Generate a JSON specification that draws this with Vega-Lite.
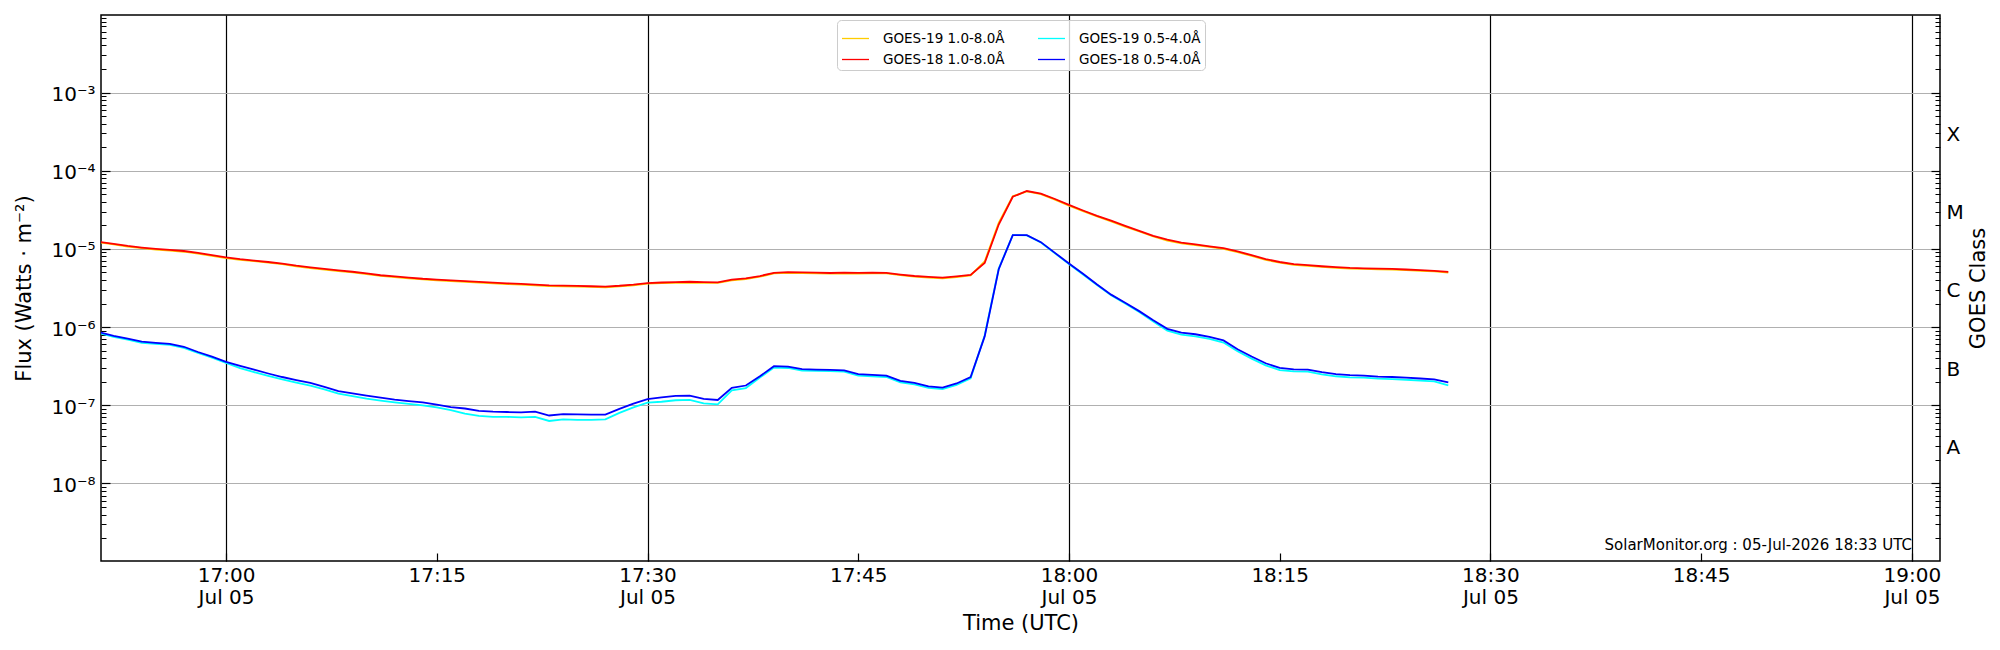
{
  "$schema": "https://vega.github.io/schema/vega-lite/v6.json",
  "width": 1839,
  "height": 546,
  "autosize": "none",
  "padding": {"left": 101, "top": 15, "right": 60, "bottom": 89},
  "background": "white",
  "config": {
    "font": "DejaVu Sans",
    "view": {"stroke": "black", "strokeWidth": 1.5},
    "axis": {"labelColor": "black", "titleColor": "black", "labelOverlap": false, "labelFlush": false, "labelBound": false}
  },
  "resolve": {"axis": {"x": "independent", "y": "independent"}},
  "layer": [
    {
      "data": {
        "values": [
          {"t": "2026-07-05T16:51:00Z", "a": 1.21e-5, "b": 1.23e-5, "c": 8.35e-7, "d": 8.6e-7},
          {"t": "2026-07-05T16:52:00Z", "a": 1.14e-5, "b": 1.16e-5, "c": 7.47e-7, "d": 7.7e-7},
          {"t": "2026-07-05T16:53:00Z", "a": 1.07e-5, "b": 1.09e-5, "c": 6.89e-7, "d": 7.1e-7},
          {"t": "2026-07-05T16:54:00Z", "a": 1.02e-5, "b": 1.04e-5, "c": 6.3e-7, "d": 6.5e-7},
          {"t": "2026-07-05T16:55:00Z", "a": 9.8e-6, "b": 1.0e-5, "c": 6.11e-7, "d": 6.3e-7},
          {"t": "2026-07-05T16:56:00Z", "a": 9.5e-6, "b": 9.7e-6, "c": 5.92e-7, "d": 6.1e-7},
          {"t": "2026-07-05T16:57:00Z", "a": 9.2e-6, "b": 9.4e-6, "c": 5.43e-7, "d": 5.6e-7},
          {"t": "2026-07-05T16:58:00Z", "a": 8.72e-6, "b": 8.9e-6, "c": 4.66e-7, "d": 4.8e-7},
          {"t": "2026-07-05T16:59:00Z", "a": 8.13e-6, "b": 8.3e-6, "c": 4.07e-7, "d": 4.2e-7},
          {"t": "2026-07-05T17:00:00Z", "a": 7.64e-6, "b": 7.8e-6, "c": 3.49e-7, "d": 3.6e-7},
          {"t": "2026-07-05T17:01:00Z", "a": 7.25e-6, "b": 7.4e-6, "c": 2.98e-7, "d": 3.2e-7},
          {"t": "2026-07-05T17:02:00Z", "a": 6.96e-6, "b": 7.1e-6, "c": 2.65e-7, "d": 2.85e-7},
          {"t": "2026-07-05T17:03:00Z", "a": 6.66e-6, "b": 6.8e-6, "c": 2.37e-7, "d": 2.55e-7},
          {"t": "2026-07-05T17:04:00Z", "a": 6.37e-6, "b": 6.5e-6, "c": 2.14e-7, "d": 2.3e-7},
          {"t": "2026-07-05T17:05:00Z", "a": 5.98e-6, "b": 6.1e-6, "c": 1.95e-7, "d": 2.1e-7},
          {"t": "2026-07-05T17:06:00Z", "a": 5.68e-6, "b": 5.8e-6, "c": 1.79e-7, "d": 1.93e-7},
          {"t": "2026-07-05T17:07:00Z", "a": 5.44e-6, "b": 5.55e-6, "c": 1.6e-7, "d": 1.72e-7},
          {"t": "2026-07-05T17:08:00Z", "a": 5.19e-6, "b": 5.3e-6, "c": 1.41e-7, "d": 1.52e-7},
          {"t": "2026-07-05T17:09:00Z", "a": 5.0e-6, "b": 5.1e-6, "c": 1.31e-7, "d": 1.42e-7},
          {"t": "2026-07-05T17:10:00Z", "a": 4.75e-6, "b": 4.85e-6, "c": 1.22e-7, "d": 1.33e-7},
          {"t": "2026-07-05T17:11:00Z", "a": 4.51e-6, "b": 4.6e-6, "c": 1.15e-7, "d": 1.25e-7},
          {"t": "2026-07-05T17:12:00Z", "a": 4.36e-6, "b": 4.45e-6, "c": 1.09e-7, "d": 1.18e-7},
          {"t": "2026-07-05T17:13:00Z", "a": 4.21e-6, "b": 4.3e-6, "c": 1.04e-7, "d": 1.13e-7},
          {"t": "2026-07-05T17:14:00Z", "a": 4.07e-6, "b": 4.15e-6, "c": 1.0e-7, "d": 1.09e-7},
          {"t": "2026-07-05T17:15:00Z", "a": 3.97e-6, "b": 4.05e-6, "c": 9.4e-8, "d": 1.02e-7},
          {"t": "2026-07-05T17:16:00Z", "a": 3.87e-6, "b": 3.95e-6, "c": 8.7e-8, "d": 9.5e-8},
          {"t": "2026-07-05T17:17:00Z", "a": 3.8e-6, "b": 3.88e-6, "c": 7.8e-8, "d": 9.1e-8},
          {"t": "2026-07-05T17:18:00Z", "a": 3.7e-6, "b": 3.78e-6, "c": 7.3e-8, "d": 8.5e-8},
          {"t": "2026-07-05T17:19:00Z", "a": 3.63e-6, "b": 3.7e-6, "c": 7.1e-8, "d": 8.3e-8},
          {"t": "2026-07-05T17:20:00Z", "a": 3.55e-6, "b": 3.62e-6, "c": 7.1e-8, "d": 8.2e-8},
          {"t": "2026-07-05T17:21:00Z", "a": 3.49e-6, "b": 3.56e-6, "c": 7.0e-8, "d": 8.1e-8},
          {"t": "2026-07-05T17:22:00Z", "a": 3.43e-6, "b": 3.5e-6, "c": 7.1e-8, "d": 8.3e-8},
          {"t": "2026-07-05T17:23:00Z", "a": 3.35e-6, "b": 3.42e-6, "c": 6.3e-8, "d": 7.4e-8},
          {"t": "2026-07-05T17:24:00Z", "a": 3.33e-6, "b": 3.4e-6, "c": 6.6e-8, "d": 7.7e-8},
          {"t": "2026-07-05T17:25:00Z", "a": 3.29e-6, "b": 3.36e-6, "c": 6.5e-8, "d": 7.65e-8},
          {"t": "2026-07-05T17:26:00Z", "a": 3.26e-6, "b": 3.33e-6, "c": 6.5e-8, "d": 7.6e-8},
          {"t": "2026-07-05T17:27:00Z", "a": 3.23e-6, "b": 3.3e-6, "c": 6.6e-8, "d": 7.6e-8},
          {"t": "2026-07-05T17:28:00Z", "a": 3.31e-6, "b": 3.38e-6, "c": 8.0e-8, "d": 9.0e-8},
          {"t": "2026-07-05T17:29:00Z", "a": 3.43e-6, "b": 3.5e-6, "c": 9.4e-8, "d": 1.05e-7},
          {"t": "2026-07-05T17:30:00Z", "a": 3.59e-6, "b": 3.66e-6, "c": 1.08e-7, "d": 1.2e-7},
          {"t": "2026-07-05T17:31:00Z", "a": 3.65e-6, "b": 3.72e-6, "c": 1.11e-7, "d": 1.26e-7},
          {"t": "2026-07-05T17:32:00Z", "a": 3.68e-6, "b": 3.76e-6, "c": 1.16e-7, "d": 1.32e-7},
          {"t": "2026-07-05T17:33:00Z", "a": 3.72e-6, "b": 3.8e-6, "c": 1.17e-7, "d": 1.33e-7},
          {"t": "2026-07-05T17:34:00Z", "a": 3.68e-6, "b": 3.76e-6, "c": 1.06e-7, "d": 1.21e-7},
          {"t": "2026-07-05T17:35:00Z", "a": 3.67e-6, "b": 3.74e-6, "c": 1.03e-7, "d": 1.17e-7},
          {"t": "2026-07-05T17:36:00Z", "a": 3.97e-6, "b": 4.05e-6, "c": 1.55e-7, "d": 1.67e-7},
          {"t": "2026-07-05T17:37:00Z", "a": 4.12e-6, "b": 4.2e-6, "c": 1.66e-7, "d": 1.79e-7},
          {"t": "2026-07-05T17:38:00Z", "a": 4.41e-6, "b": 4.5e-6, "c": 2.26e-7, "d": 2.35e-7},
          {"t": "2026-07-05T17:39:00Z", "a": 4.85e-6, "b": 4.95e-6, "c": 3.03e-7, "d": 3.16e-7},
          {"t": "2026-07-05T17:40:00Z", "a": 4.95e-6, "b": 5.05e-6, "c": 3.0e-7, "d": 3.13e-7},
          {"t": "2026-07-05T17:41:00Z", "a": 4.9e-6, "b": 5.0e-6, "c": 2.78e-7, "d": 2.9e-7},
          {"t": "2026-07-05T17:42:00Z", "a": 4.87e-6, "b": 4.97e-6, "c": 2.75e-7, "d": 2.86e-7},
          {"t": "2026-07-05T17:43:00Z", "a": 4.82e-6, "b": 4.92e-6, "c": 2.73e-7, "d": 2.84e-7},
          {"t": "2026-07-05T17:44:00Z", "a": 4.88e-6, "b": 4.98e-6, "c": 2.69e-7, "d": 2.8e-7},
          {"t": "2026-07-05T17:45:00Z", "a": 4.83e-6, "b": 4.93e-6, "c": 2.4e-7, "d": 2.5e-7},
          {"t": "2026-07-05T17:46:00Z", "a": 4.87e-6, "b": 4.97e-6, "c": 2.35e-7, "d": 2.45e-7},
          {"t": "2026-07-05T17:47:00Z", "a": 4.85e-6, "b": 4.95e-6, "c": 2.3e-7, "d": 2.4e-7},
          {"t": "2026-07-05T17:48:00Z", "a": 4.61e-6, "b": 4.7e-6, "c": 1.97e-7, "d": 2.05e-7},
          {"t": "2026-07-05T17:49:00Z", "a": 4.41e-6, "b": 4.5e-6, "c": 1.85e-7, "d": 1.93e-7},
          {"t": "2026-07-05T17:50:00Z", "a": 4.29e-6, "b": 4.38e-6, "c": 1.67e-7, "d": 1.74e-7},
          {"t": "2026-07-05T17:51:00Z", "a": 4.19e-6, "b": 4.28e-6, "c": 1.61e-7, "d": 1.68e-7},
          {"t": "2026-07-05T17:52:00Z", "a": 4.36e-6, "b": 4.45e-6, "c": 1.82e-7, "d": 1.9e-7},
          {"t": "2026-07-05T17:53:00Z", "a": 4.57e-6, "b": 4.66e-6, "c": 2.21e-7, "d": 2.3e-7},
          {"t": "2026-07-05T17:54:00Z", "a": 6.9e-6, "b": 6.6e-6, "c": 7.8e-7, "d": 7.6e-7},
          {"t": "2026-07-05T17:55:00Z", "a": 2.15e-5, "b": 2.05e-5, "c": 5.6e-6, "d": 5.5e-6},
          {"t": "2026-07-05T17:56:00Z", "a": 4.7e-5, "b": 4.64e-5, "c": 1.5e-5, "d": 1.5e-5},
          {"t": "2026-07-05T17:57:00Z", "a": 5.45e-5, "b": 5.5e-5, "c": 1.49e-5, "d": 1.5e-5},
          {"t": "2026-07-05T17:58:00Z", "a": 5.0e-5, "b": 5.1e-5, "c": 1.21e-5, "d": 1.22e-5},
          {"t": "2026-07-05T17:59:00Z", "a": 4.27e-5, "b": 4.35e-5, "c": 8.8e-6, "d": 8.9e-6},
          {"t": "2026-07-05T18:00:00Z", "a": 3.58e-5, "b": 3.65e-5, "c": 6.4e-6, "d": 6.5e-6},
          {"t": "2026-07-05T18:01:00Z", "a": 3.04e-5, "b": 3.1e-5, "c": 4.7e-6, "d": 4.8e-6},
          {"t": "2026-07-05T18:02:00Z", "a": 2.6e-5, "b": 2.65e-5, "c": 3.45e-6, "d": 3.5e-6},
          {"t": "2026-07-05T18:03:00Z", "a": 2.25e-5, "b": 2.3e-5, "c": 2.55e-6, "d": 2.6e-6},
          {"t": "2026-07-05T18:04:00Z", "a": 1.93e-5, "b": 1.97e-5, "c": 2.0e-6, "d": 2.05e-6},
          {"t": "2026-07-05T18:05:00Z", "a": 1.67e-5, "b": 1.7e-5, "c": 1.56e-6, "d": 1.6e-6},
          {"t": "2026-07-05T18:06:00Z", "a": 1.44e-5, "b": 1.47e-5, "c": 1.18e-6, "d": 1.22e-6},
          {"t": "2026-07-05T18:07:00Z", "a": 1.28e-5, "b": 1.31e-5, "c": 9.0e-7, "d": 9.5e-7},
          {"t": "2026-07-05T18:08:00Z", "a": 1.18e-5, "b": 1.2e-5, "c": 8.0e-7, "d": 8.5e-7},
          {"t": "2026-07-05T18:09:00Z", "a": 1.12e-5, "b": 1.14e-5, "c": 7.6e-7, "d": 8.1e-7},
          {"t": "2026-07-05T18:10:00Z", "a": 1.06e-5, "b": 1.08e-5, "c": 7.05e-7, "d": 7.5e-7},
          {"t": "2026-07-05T18:11:00Z", "a": 1.0e-5, "b": 1.02e-5, "c": 6.35e-7, "d": 6.75e-7},
          {"t": "2026-07-05T18:12:00Z", "a": 9.1e-6, "b": 9.3e-6, "c": 4.9e-7, "d": 5.2e-7},
          {"t": "2026-07-05T18:13:00Z", "a": 8.13e-6, "b": 8.3e-6, "c": 3.95e-7, "d": 4.2e-7},
          {"t": "2026-07-05T18:14:00Z", "a": 7.25e-6, "b": 7.4e-6, "c": 3.24e-7, "d": 3.45e-7},
          {"t": "2026-07-05T18:15:00Z", "a": 6.66e-6, "b": 6.8e-6, "c": 2.82e-7, "d": 3.0e-7},
          {"t": "2026-07-05T18:16:00Z", "a": 6.27e-6, "b": 6.4e-6, "c": 2.71e-7, "d": 2.88e-7},
          {"t": "2026-07-05T18:17:00Z", "a": 6.08e-6, "b": 6.2e-6, "c": 2.69e-7, "d": 2.86e-7},
          {"t": "2026-07-05T18:18:00Z", "a": 5.88e-6, "b": 6.0e-6, "c": 2.49e-7, "d": 2.65e-7},
          {"t": "2026-07-05T18:19:00Z", "a": 5.73e-6, "b": 5.85e-6, "c": 2.35e-7, "d": 2.5e-7},
          {"t": "2026-07-05T18:20:00Z", "a": 5.61e-6, "b": 5.72e-6, "c": 2.28e-7, "d": 2.43e-7},
          {"t": "2026-07-05T18:21:00Z", "a": 5.54e-6, "b": 5.65e-6, "c": 2.26e-7, "d": 2.4e-7},
          {"t": "2026-07-05T18:22:00Z", "a": 5.49e-6, "b": 5.6e-6, "c": 2.19e-7, "d": 2.33e-7},
          {"t": "2026-07-05T18:23:00Z", "a": 5.44e-6, "b": 5.55e-6, "c": 2.16e-7, "d": 2.3e-7},
          {"t": "2026-07-05T18:24:00Z", "a": 5.34e-6, "b": 5.45e-6, "c": 2.12e-7, "d": 2.26e-7},
          {"t": "2026-07-05T18:25:00Z", "a": 5.24e-6, "b": 5.35e-6, "c": 2.07e-7, "d": 2.2e-7},
          {"t": "2026-07-05T18:26:00Z", "a": 5.15e-6, "b": 5.25e-6, "c": 2.02e-7, "d": 2.15e-7},
          {"t": "2026-07-05T18:27:00Z", "a": 4.97e-6, "b": 5.07e-6, "c": 1.8e-7, "d": 1.97e-7}
        ]
      },
      "transform": [{"fold": ["a", "b", "c", "d"], "as": ["key", "value"]}],
      "mark": {"type": "line", "strokeWidth": 1.8, "clip": true},
      "encoding": {
        "x": {
          "field": "t",
          "type": "temporal",
          "scale": {"type": "utc", "nice": false, "domain": [
            {"year": 2026, "month": 7, "date": 5, "hours": 16, "minutes": 51, "seconds": 6, "utc": true},
            {"year": 2026, "month": 7, "date": 5, "hours": 19, "minutes": 2, "utc": true}
          ]},
          "axis": {
            "orient": "bottom",
            "values": [
              {"year": 2026, "month": 7, "date": 5, "hours": 17, "minutes": 0, "utc": true},
              {"year": 2026, "month": 7, "date": 5, "hours": 17, "minutes": 15, "utc": true},
              {"year": 2026, "month": 7, "date": 5, "hours": 17, "minutes": 30, "utc": true},
              {"year": 2026, "month": 7, "date": 5, "hours": 17, "minutes": 45, "utc": true},
              {"year": 2026, "month": 7, "date": 5, "hours": 18, "minutes": 0, "utc": true},
              {"year": 2026, "month": 7, "date": 5, "hours": 18, "minutes": 15, "utc": true},
              {"year": 2026, "month": 7, "date": 5, "hours": 18, "minutes": 30, "utc": true},
              {"year": 2026, "month": 7, "date": 5, "hours": 18, "minutes": 45, "utc": true},
              {"year": 2026, "month": 7, "date": 5, "hours": 19, "minutes": 0, "utc": true}
            ],
            "ticks": false,
            "domain": false,
            "grid": false,
            "labelExpr": "utcminutes(datum.value) % 30 == 0 ? [utcFormat(datum.value, '%H:%M'), 'Jul 05'] : utcFormat(datum.value, '%H:%M')",
            "labelFontSize": 20,
            "labelPadding": 4,
            "labelLineHeight": 22,
            "title": "Time (UTC)",
            "titleFontSize": 21,
            "titleFontWeight": "normal",
            "titlePadding": 5
          }
        },
        "y": {
          "field": "value",
          "type": "quantitative",
          "scale": {"type": "log", "nice": false, "domain": [1.02e-9, 0.0098]},
          "axis": {
            "orient": "left",
            "values": [1e-8, 1e-7, 1e-6, 1e-5, 1e-4, 1e-3],
            "ticks": false,
            "domain": false,
            "grid": true,
            "gridColor": "#b0b0b0",
            "gridWidth": 1.2,
            "gridOpacity": 1,
            "labelExpr": "'10⁻' + ['⁰','¹','²','³','⁴','⁵','⁶','⁷','⁸','⁹'][-round(log(datum.value) / LN10)]",
            "labelFontSize": 20,
            "labelPadding": 6,
            "labelOffset": 2,
            "title": "Flux (Watts · m⁻²)",
            "titleFontSize": 21,
            "titleFontWeight": "normal",
            "titlePadding": 16
          }
        },
        "color": {
          "field": "key",
          "type": "nominal",
          "scale": {"domain": ["a", "b", "c", "d"], "range": ["#ffcc00", "#ff0000", "#00ffff", "#0000ff"]},
          "legend": {
            "orient": "none",
            "legendX": 736,
            "legendY": 5,
            "columns": 2,
            "title": null,
            "symbolType": "stroke",
            "symbolSize": 729,
            "symbolStrokeWidth": 1.3,
            "labelFontSize": 13.5,
            "labelColor": "black",
            "labelOffset": 13,
            "columnPadding": 30,
            "rowPadding": -4,
            "padding": 4,
            "fillColor": "rgba(255,255,255,0.8)",
            "strokeColor": "#cccccc",
            "cornerRadius": 4,
            "labelExpr": "datum.label == 'a' ? 'GOES-19 1.0-8.0Å' : datum.label == 'b' ? 'GOES-18 1.0-8.0Å' : datum.label == 'c' ? 'GOES-19 0.5-4.0Å' : 'GOES-18 0.5-4.0Å'"
          }
        }
      }
    },
    {
      "data": {"values": [{"t": "2026-07-05T17:00:00Z", "v": 1e-5}]},
      "mark": {"type": "point", "opacity": 0},
      "encoding": {
        "x": {
          "field": "t",
          "type": "temporal",
          "axis": {
            "orient": "bottom",
            "values": [
              {"year": 2026, "month": 7, "date": 5, "hours": 17, "minutes": 0, "utc": true},
              {"year": 2026, "month": 7, "date": 5, "hours": 17, "minutes": 15, "utc": true},
              {"year": 2026, "month": 7, "date": 5, "hours": 17, "minutes": 30, "utc": true},
              {"year": 2026, "month": 7, "date": 5, "hours": 17, "minutes": 45, "utc": true},
              {"year": 2026, "month": 7, "date": 5, "hours": 18, "minutes": 0, "utc": true},
              {"year": 2026, "month": 7, "date": 5, "hours": 18, "minutes": 15, "utc": true},
              {"year": 2026, "month": 7, "date": 5, "hours": 18, "minutes": 30, "utc": true},
              {"year": 2026, "month": 7, "date": 5, "hours": 18, "minutes": 45, "utc": true},
              {"year": 2026, "month": 7, "date": 5, "hours": 19, "minutes": 0, "utc": true}
            ],
            "ticks": true, "tickSize": -8, "tickColor": "black", "tickWidth": 1.2,
            "labels": false, "domain": false, "grid": false, "title": null
          }
        },
        "y": {
          "field": "v",
          "type": "quantitative",
          "axis": {
            "orient": "left",
            "values": [1e-8, 1e-7, 1e-6, 1e-5, 1e-4, 1e-3],
            "ticks": true, "tickSize": -9, "tickColor": "black", "tickWidth": 1.2,
            "labels": false, "domain": false, "grid": false, "title": null
          }
        }
      }
    },
    {
      "data": {"values": [{"t": "2026-07-05T17:00:00Z", "v": 1e-5}]},
      "mark": {"type": "point", "opacity": 0},
      "encoding": {
        "x": {
          "field": "t",
          "type": "temporal",
          "axis": {
            "orient": "bottom",
            "values": [
              {"year": 2026, "month": 7, "date": 5, "hours": 17, "minutes": 0, "utc": true},
              {"year": 2026, "month": 7, "date": 5, "hours": 17, "minutes": 30, "utc": true},
              {"year": 2026, "month": 7, "date": 5, "hours": 18, "minutes": 0, "utc": true},
              {"year": 2026, "month": 7, "date": 5, "hours": 18, "minutes": 30, "utc": true},
              {"year": 2026, "month": 7, "date": 5, "hours": 19, "minutes": 0, "utc": true}
            ],
            "ticks": false, "labels": false, "domain": false,
            "grid": true, "gridColor": "black", "gridWidth": 1.2, "gridOpacity": 1, "title": null
          }
        },
        "y": {
          "field": "v",
          "type": "quantitative",
          "axis": {
            "orient": "left",
            "values": [2e-9, 3e-9, 4e-9, 5e-9, 6e-9, 7e-9, 8e-9, 9e-9,
                       2e-8, 3e-8, 4e-8, 5e-8, 6e-8, 7e-8, 8e-8, 9e-8,
                       2e-7, 3e-7, 4e-7, 5e-7, 6e-7, 7e-7, 8e-7, 9e-7,
                       2e-6, 3e-6, 4e-6, 5e-6, 6e-6, 7e-6, 8e-6, 9e-6,
                       2e-5, 3e-5, 4e-5, 5e-5, 6e-5, 7e-5, 8e-5, 9e-5,
                       2e-4, 3e-4, 4e-4, 5e-4, 6e-4, 7e-4, 8e-4, 9e-4,
                       2e-3, 3e-3, 4e-3, 5e-3, 6e-3, 7e-3, 8e-3, 9e-3],
            "ticks": true, "tickSize": -5, "tickColor": "black", "tickWidth": 1,
            "labels": false, "domain": false, "grid": false, "title": null
          }
        }
      }
    },
    {
      "data": {"values": [{"t": "2026-07-05T17:00:00Z", "v": 1e-5}]},
      "mark": {"type": "point", "opacity": 0},
      "encoding": {
        "x": {"field": "t", "type": "temporal", "axis": null},
        "y": {
          "field": "v",
          "type": "quantitative",
          "axis": {
            "orient": "right",
            "values": [1e-8, 1e-7, 1e-6, 1e-5, 1e-4, 1e-3],
            "ticks": true, "tickSize": -9, "tickColor": "black", "tickWidth": 1.2,
            "labels": false, "domain": false, "grid": false, "title": null
          }
        }
      }
    },
    {
      "data": {"values": [{"t": "2026-07-05T17:00:00Z", "v": 1e-5}]},
      "mark": {"type": "point", "opacity": 0},
      "encoding": {
        "x": {"field": "t", "type": "temporal", "axis": null},
        "y": {
          "field": "v",
          "type": "quantitative",
          "axis": {
            "orient": "right",
            "values": [2e-9, 3e-9, 4e-9, 5e-9, 6e-9, 7e-9, 8e-9, 9e-9,
                       2e-8, 3e-8, 4e-8, 5e-8, 6e-8, 7e-8, 8e-8, 9e-8,
                       2e-7, 3e-7, 4e-7, 5e-7, 6e-7, 7e-7, 8e-7, 9e-7,
                       2e-6, 3e-6, 4e-6, 5e-6, 6e-6, 7e-6, 8e-6, 9e-6,
                       2e-5, 3e-5, 4e-5, 5e-5, 6e-5, 7e-5, 8e-5, 9e-5,
                       2e-4, 3e-4, 4e-4, 5e-4, 6e-4, 7e-4, 8e-4, 9e-4,
                       2e-3, 3e-3, 4e-3, 5e-3, 6e-3, 7e-3, 8e-3, 9e-3],
            "ticks": true, "tickSize": -5, "tickColor": "black", "tickWidth": 1,
            "labels": false, "domain": false, "grid": false, "title": null
          }
        }
      }
    },
    {
      "data": {"values": [{"t": "2026-07-05T17:00:00Z", "v": 1e-5}]},
      "mark": {"type": "point", "opacity": 0},
      "encoding": {
        "x": {"field": "t", "type": "temporal", "axis": null},
        "y": {
          "field": "v",
          "type": "quantitative",
          "axis": {
            "orient": "right",
            "values": [3.1623e-8, 3.1623e-7, 3.1623e-6, 3.1623e-5, 3.1623e-4],
            "ticks": false, "domain": false, "grid": false,
            "labelExpr": "['A','B','C','M','X'][round(log(datum.value) / LN10 + 7.5)]",
            "labelFontSize": 20,
            "labelPadding": 6,
            "labelOffset": 3,
            "title": "GOES Class",
            "titleFontSize": 21,
            "titleFontWeight": "normal",
            "titleAngle": 270,
            "titleBaseline": "top",
            "titlePadding": 4
          }
        }
      }
    },
    {
      "data": {"values": [{"label": "SolarMonitor.org : 05-Jul-2026 18:33 UTC"}]},
      "mark": {"type": "text", "align": "right", "baseline": "middle", "fontSize": 15, "color": "black"},
      "encoding": {
        "x": {"datum": {"year": 2026, "month": 7, "date": 5, "hours": 19, "minutes": 0, "utc": true}, "type": "temporal", "axis": null},
        "y": {"datum": 1.62e-9, "type": "quantitative", "axis": null},
        "text": {"field": "label"}
      }
    }
  ]
}
